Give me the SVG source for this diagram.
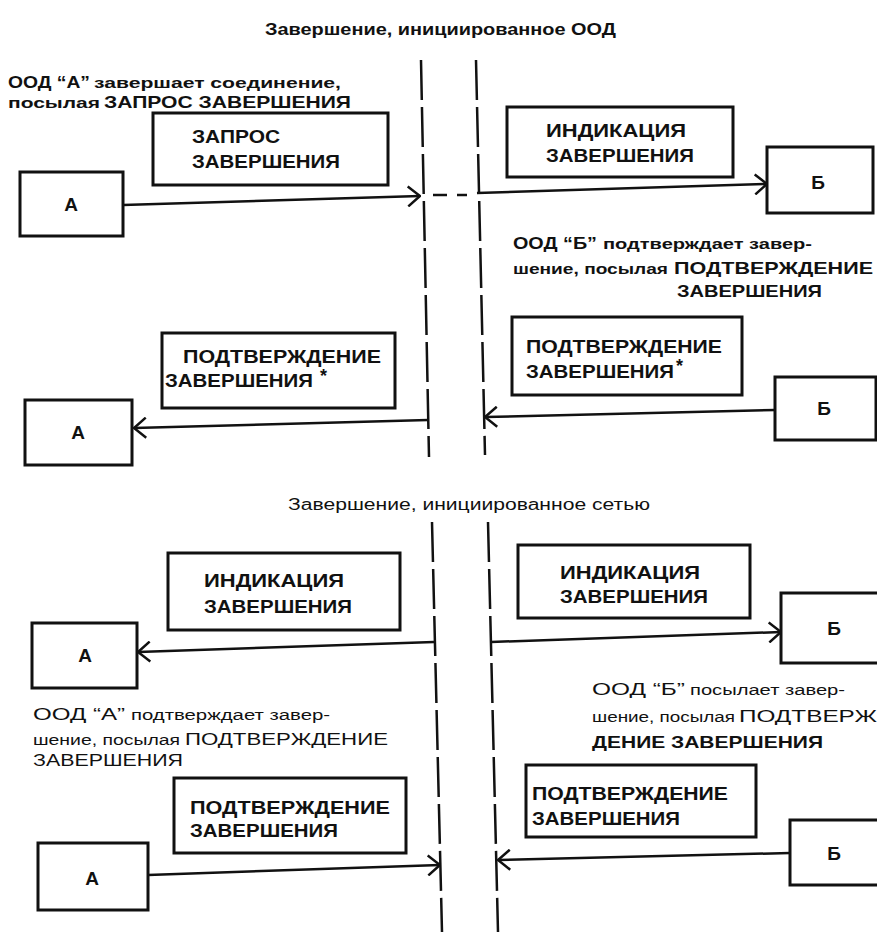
<svg xmlns="http://www.w3.org/2000/svg" width="877" height="932" viewBox="0 0 877 932">
<style>
  .bg { fill: #ffffff; }
  .box { fill: #ffffff; stroke: #111; stroke-width: 3; }
  .lbl { font-family: "Liberation Sans", Arial, sans-serif; font-weight: bold; font-size: 18px; fill: #111; }
  .node { font-family: "Liberation Sans", Arial, sans-serif; font-weight: bold; font-size: 19px; fill: #111; }
  .title { font-family: "Liberation Sans", Arial, sans-serif; font-size: 16px; fill: #111; }
  .desc { font-family: "Liberation Sans", Arial, sans-serif; font-size: 17px; fill: #111; }
  .small { font-size: 14px; }
  .b { font-weight: bold; }
  .conn { fill: none; stroke: #111; stroke-width: 2.5; }
  .life { fill: none; stroke: #111; stroke-width: 2.5; stroke-dasharray: 40 7; }
</style>
<defs>
  <marker id="arr" viewBox="0 0 14 22" refX="13" refY="11" markerWidth="14" markerHeight="22" markerUnits="userSpaceOnUse" orient="auto">
    <path d="M1,1 L13,11 L1,21" fill="none" stroke="#111" stroke-width="2.5"/>
  </marker>
</defs>
<rect class="bg" x="0" y="0" width="877" height="932"/>

<!-- Titles -->
<text class="title b" x="265" y="35" textLength="351" lengthAdjust="spacingAndGlyphs">Завершение, инициированное ООД</text>
<text class="title" x="288" y="510" textLength="362" lengthAdjust="spacingAndGlyphs">Завершение, инициированное сетью</text>

<!-- Connectors -->
<g id="connectors">
  <line class="life" x1="421" y1="60" x2="429" y2="457"/>
  <line class="life" x1="476" y1="60" x2="485" y2="455"/>
  <line class="life" x1="432" y1="522" x2="442" y2="932"/>
  <line class="life" x1="488" y1="522" x2="498" y2="932"/>

  <line class="conn" x1="123" y1="205" x2="420" y2="196" marker-end="url(#arr)"/>
  <line class="conn" x1="433" y1="195" x2="447" y2="195"/>
  <line class="conn" x1="457" y1="195" x2="467" y2="195"/>
  <line class="conn" x1="477" y1="193" x2="767" y2="184" marker-end="url(#arr)"/>

  <line class="conn" x1="428" y1="420" x2="134" y2="428" marker-end="url(#arr)"/>
  <line class="conn" x1="775" y1="410" x2="485" y2="417" marker-end="url(#arr)"/>

  <line class="conn" x1="434" y1="642" x2="138" y2="652" marker-end="url(#arr)"/>
  <line class="conn" x1="491" y1="642" x2="781" y2="632" marker-end="url(#arr)"/>

  <line class="conn" x1="148" y1="875" x2="440" y2="865" marker-end="url(#arr)"/>
  <line class="conn" x1="790" y1="853" x2="498" y2="860" marker-end="url(#arr)"/>
</g>

<!-- Section 1 -->
<g id="desc-a1">
  <text class="desc b" y="88"><tspan x="8" textLength="82" lengthAdjust="spacingAndGlyphs">ООД “А”</tspan><tspan class="small" x="94" textLength="247" lengthAdjust="spacingAndGlyphs">завершает соединение,</tspan></text>
  <text class="desc b" y="108"><tspan class="small" x="8" textLength="92" lengthAdjust="spacingAndGlyphs">посылая</tspan><tspan x="104" textLength="247" lengthAdjust="spacingAndGlyphs">ЗАПРОС ЗАВЕРШЕНИЯ</tspan></text>
</g>
<g id="msg-clear-request">
  <rect class="box" x="153" y="113" width="235" height="72"/>
  <text class="lbl" x="192" y="143" textLength="88" lengthAdjust="spacingAndGlyphs">ЗАПРОС</text>
  <text class="lbl" x="192" y="168" textLength="148" lengthAdjust="spacingAndGlyphs">ЗАВЕРШЕНИЯ</text>
</g>
<g id="node-a1">
  <rect class="box" x="20" y="172" width="103" height="64"/>
  <text class="node" x="71" y="211" text-anchor="middle">А</text>
</g>
<g id="msg-clear-indication-1">
  <rect class="box" x="507" y="107" width="226" height="70"/>
  <text class="lbl" x="546" y="137" textLength="140" lengthAdjust="spacingAndGlyphs">ИНДИКАЦИЯ</text>
  <text class="lbl" x="546" y="162" textLength="148" lengthAdjust="spacingAndGlyphs">ЗАВЕРШЕНИЯ</text>
</g>
<g id="node-b1">
  <rect class="box" x="767" y="147" width="106" height="66"/>
  <text class="node" x="818" y="189" text-anchor="middle">Б</text>
</g>
<g id="desc-b1">
  <text class="desc b" y="249"><tspan x="513" textLength="84" lengthAdjust="spacingAndGlyphs">ООД “Б”</tspan><tspan class="small" x="603" textLength="209" lengthAdjust="spacingAndGlyphs">подтверждает завер-</tspan></text>
  <text class="desc b" y="274"><tspan class="small" x="513" textLength="155" lengthAdjust="spacingAndGlyphs">шение, посылая</tspan><tspan x="674" textLength="199" lengthAdjust="spacingAndGlyphs">ПОДТВЕРЖДЕНИЕ</tspan></text>
  <text class="desc b" x="677" y="297" textLength="145" lengthAdjust="spacingAndGlyphs">ЗАВЕРШЕНИЯ</text>
</g>
<g id="msg-clear-confirm-1a">
  <rect class="box" x="162" y="333" width="233" height="75"/>
  <text class="lbl" x="183" y="363" textLength="198" lengthAdjust="spacingAndGlyphs">ПОДТВЕРЖДЕНИЕ</text>
  <text class="lbl" x="165" y="387" textLength="148" lengthAdjust="spacingAndGlyphs">ЗАВЕРШЕНИЯ</text>
  <text class="lbl" x="320" y="382">*</text>
</g>
<g id="node-a2">
  <rect class="box" x="25" y="400" width="107" height="65"/>
  <text class="node" x="78" y="439" text-anchor="middle">А</text>
</g>
<g id="msg-clear-confirm-1b">
  <rect class="box" x="512" y="317" width="230" height="78"/>
  <text class="lbl" x="526" y="353" textLength="196" lengthAdjust="spacingAndGlyphs">ПОДТВЕРЖДЕНИЕ</text>
  <text class="lbl" x="526" y="378" textLength="148" lengthAdjust="spacingAndGlyphs">ЗАВЕРШЕНИЯ</text>
  <text class="lbl" x="676" y="372">*</text>
</g>
<g id="node-b2">
  <rect class="box" x="775" y="377" width="101" height="63"/>
  <text class="node" x="824" y="415" text-anchor="middle">Б</text>
</g>

<!-- Section 2 -->
<g id="msg-clear-indication-2a">
  <rect class="box" x="168" y="553" width="232" height="77"/>
  <text class="lbl" x="204" y="587" textLength="140" lengthAdjust="spacingAndGlyphs">ИНДИКАЦИЯ</text>
  <text class="lbl" x="204" y="613" textLength="148" lengthAdjust="spacingAndGlyphs">ЗАВЕРШЕНИЯ</text>
</g>
<g id="node-a3">
  <rect class="box" x="32" y="623" width="105" height="65"/>
  <text class="node" x="85" y="662" text-anchor="middle">А</text>
</g>
<g id="msg-clear-indication-2b">
  <rect class="box" x="518" y="545" width="232" height="73"/>
  <text class="lbl" x="560" y="579" textLength="140" lengthAdjust="spacingAndGlyphs">ИНДИКАЦИЯ</text>
  <text class="lbl" x="560" y="603" textLength="148" lengthAdjust="spacingAndGlyphs">ЗАВЕРШЕНИЯ</text>
</g>
<g id="node-b3">
  <rect class="box" x="781" y="593" width="99" height="70"/>
  <text class="node" x="834" y="635" text-anchor="middle">Б</text>
</g>
<g id="desc-a2">
  <text class="desc" y="720"><tspan x="33" textLength="92" lengthAdjust="spacingAndGlyphs">ООД “А”</tspan><tspan class="small" x="131" textLength="199" lengthAdjust="spacingAndGlyphs">подтверждает завер-</tspan></text>
  <text class="desc" y="745"><tspan class="small" x="33" textLength="147" lengthAdjust="spacingAndGlyphs">шение, посылая</tspan><tspan x="185" textLength="203" lengthAdjust="spacingAndGlyphs">ПОДТВЕРЖДЕНИЕ</tspan></text>
  <text class="desc" x="33" y="766" textLength="150" lengthAdjust="spacingAndGlyphs">ЗАВЕРШЕНИЯ</text>
</g>
<g id="desc-b2">
  <text class="desc" y="695"><tspan x="592" textLength="93" lengthAdjust="spacingAndGlyphs">ООД “Б”</tspan><tspan class="small" x="690" textLength="155" lengthAdjust="spacingAndGlyphs">посылает завер-</tspan></text>
  <text class="desc" y="722"><tspan class="small" x="592" textLength="143" lengthAdjust="spacingAndGlyphs">шение, посылая</tspan><tspan x="739" textLength="138" lengthAdjust="spacingAndGlyphs">ПОДТВЕРЖ</tspan></text>
  <text class="desc b" x="592" y="748" textLength="231" lengthAdjust="spacingAndGlyphs">ДЕНИЕ ЗАВЕРШЕНИЯ</text>
</g>
<g id="msg-clear-confirm-2a">
  <rect class="box" x="174" y="778" width="232" height="75"/>
  <text class="lbl" x="190" y="814" textLength="200" lengthAdjust="spacingAndGlyphs">ПОДТВЕРЖДЕНИЕ</text>
  <text class="lbl" x="190" y="837" textLength="148" lengthAdjust="spacingAndGlyphs">ЗАВЕРШЕНИЯ</text>
</g>
<g id="node-a4">
  <rect class="box" x="38" y="843" width="110" height="67"/>
  <text class="node" x="92" y="885" text-anchor="middle">А</text>
</g>
<g id="msg-clear-confirm-2b">
  <rect class="box" x="526" y="765" width="230" height="72"/>
  <text class="lbl" x="532" y="800" textLength="196" lengthAdjust="spacingAndGlyphs">ПОДТВЕРЖДЕНИЕ</text>
  <text class="lbl" x="532" y="825" textLength="148" lengthAdjust="spacingAndGlyphs">ЗАВЕРШЕНИЯ</text>
</g>
<g id="node-b4">
  <rect class="box" x="790" y="820" width="90" height="65"/>
  <text class="node" x="834" y="860" text-anchor="middle">Б</text>
</g>
</svg>
